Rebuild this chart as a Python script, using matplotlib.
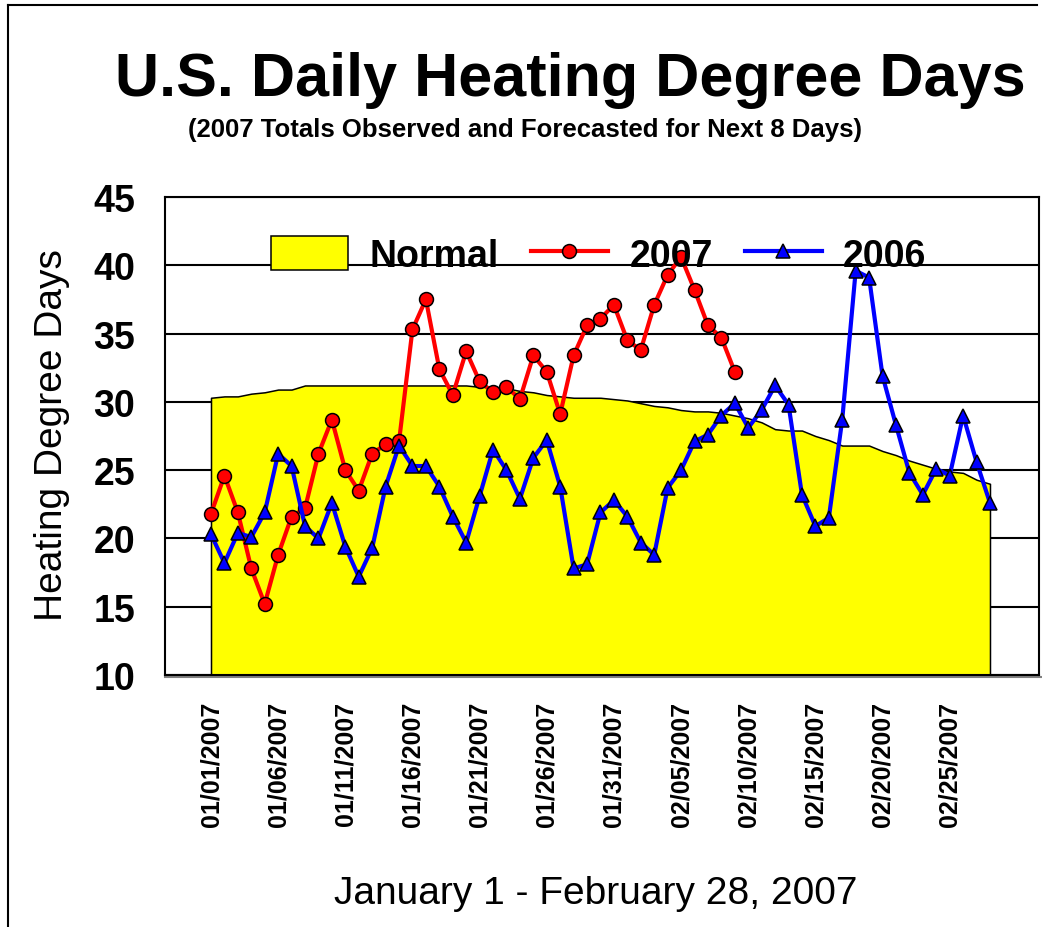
import matplotlib
matplotlib.use("Agg")
import matplotlib.pyplot as plt
from matplotlib.lines import Line2D
import numpy as np

plt.rcParams['font.family'] = ['Liberation Sans', 'DejaVu Sans']

# ---------------- data ----------------
dates = ["01/01/2007", "01/02/2007", "01/03/2007", "01/04/2007", "01/05/2007",
         "01/06/2007", "01/07/2007", "01/08/2007", "01/09/2007", "01/10/2007",
         "01/11/2007", "01/12/2007", "01/13/2007", "01/14/2007", "01/15/2007",
         "01/16/2007", "01/17/2007", "01/18/2007", "01/19/2007", "01/20/2007",
         "01/21/2007", "01/22/2007", "01/23/2007", "01/24/2007", "01/25/2007",
         "01/26/2007", "01/27/2007", "01/28/2007", "01/29/2007", "01/30/2007",
         "01/31/2007", "02/01/2007", "02/02/2007", "02/03/2007", "02/04/2007",
         "02/05/2007", "02/06/2007", "02/07/2007", "02/08/2007", "02/09/2007",
         "02/10/2007", "02/11/2007", "02/12/2007", "02/13/2007", "02/14/2007",
         "02/15/2007", "02/16/2007", "02/17/2007", "02/18/2007", "02/19/2007",
         "02/20/2007", "02/21/2007", "02/22/2007", "02/23/2007", "02/24/2007",
         "02/25/2007", "02/26/2007", "02/27/2007", "02/28/2007"]

normal = [30.3, 30.4, 30.4, 30.6, 30.7, 30.9, 30.9, 31.2, 31.2, 31.2,
          31.2, 31.2, 31.2, 31.2, 31.2, 31.2, 31.2, 31.2, 31.2, 31.2,
          31.1, 31.1, 31.0, 30.8, 30.7, 30.5, 30.4, 30.3, 30.3, 30.3,
          30.2, 30.1, 29.9, 29.7, 29.6, 29.4, 29.3, 29.3, 29.2, 29.0,
          28.8, 28.5, 28.0, 27.9, 27.9, 27.5, 27.2, 26.8, 26.8, 26.8,
          26.4, 26.1, 25.7, 25.4, 25.1, 24.9, 24.8, 24.3, 24.0]

hdd_2007 = [21.8, 24.6, 21.9, 17.8, 15.2, 18.8, 21.6, 22.2, 26.2, 28.7,
            25.0, 23.5, 26.2, 26.9, 27.1, 35.3, 37.5, 32.4, 30.5, 33.7,
            31.5, 30.7, 31.1, 30.2, 33.4, 32.2, 29.1, 33.4, 35.6, 36.1,
            37.1, 34.5, 33.8, 37.1, 39.3, 40.6, 38.2, 35.6, 34.7, 32.2]

hdd_2006 = [20.3, 18.2, 20.4, 20.1, 21.9, 26.2, 25.3, 20.9, 20.0, 22.6,
            19.4, 17.2, 19.3, 23.8, 26.8, 25.3, 25.3, 23.8, 21.6, 19.7,
            23.1, 26.5, 25.0, 22.9, 25.9, 27.2, 23.8, 17.8, 18.1, 21.9,
            22.8, 21.6, 19.7, 18.8, 23.7, 25.0, 27.1, 27.6, 29.0, 29.9,
            28.1, 29.4, 31.2, 29.8, 23.2, 20.9, 21.5, 28.7, 39.6, 39.1,
            31.9, 28.3, 24.8, 23.2, 25.1, 24.6, 29.0, 25.6, 22.6]

yticks = [10, 15, 20, 25, 30, 35, 40, 45]
title = "U.S. Daily Heating Degree Days"
subtitle = "(2007 Totals Observed and Forecasted for Next 8 Days)"

# ---------------- figure ----------------
W, H = 1042, 928
fig = plt.figure(figsize=(W / 100, H / 100), dpi=100)
fig.patch.set_facecolor("white")

def fx(px):
    return px / W

def fy(py):
    return 1 - py / H

ax = fig.add_axes([fx(165), fy(676), fx(1039) - fx(165), fy(198) - fy(676)])

x_all = np.arange(len(dates))
x07 = np.arange(len(hdd_2007))
x06 = np.arange(len(hdd_2006))

ax.set_ylim(10, 45)
ax.set_xlim(-3.425, 61.65)

normal_fill = ax.fill_between(x_all, normal, 10, facecolor="#FFFF00",
                              edgecolor="black", linewidth=1.1, zorder=1,
                              label="Normal")
l07, = ax.plot(x07, hdd_2007, color="#FF0000", lw=3.0, marker="o",
               markersize=10, markerfacecolor="#FF0000",
               markeredgecolor="black", markeredgewidth=1.1, zorder=3,
               label="2007")
l06, = ax.plot(x06, hdd_2006, color="#0000FF", lw=3.0, marker="^",
               markersize=10, markerfacecolor="#0000FF",
               markeredgecolor="black", markeredgewidth=1.1, zorder=4,
               label="2006")

# gridlines (behind the fill)
ax.set_axisbelow(True)
ax.yaxis.grid(True, color="black", linewidth=1.5)
ax.xaxis.grid(False)

ax.set_yticks(yticks)
ax.set_yticklabels([str(v) for v in yticks], fontsize=27, fontweight="bold")
ax.set_xticks(x_all[::5])
ax.set_xticklabels([dates[i] for i in range(0, len(dates), 5)],
                   fontsize=18, fontweight="bold", rotation=90)
ax.tick_params(axis="y", length=0, pad=21.6)
ax.tick_params(axis="x", length=0, pad=18.7)

for s in ax.spines.values():
    s.set_linewidth(1.5)
    s.set_color("black")

# slight grey shadow under bottom axis
ax.add_line(Line2D([0, 1.002], [-0.004, -0.004], transform=ax.transAxes,
                   color="#808080", lw=1.5, clip_on=False, zorder=0))

ax.set_ylabel("Heating Degree Days", fontsize=28)
ax.yaxis.set_label_coords((70 - 165) / 874, (676 - 435) / 478)
ax.set_xlabel("January 1 - February 28, 2007", fontsize=28)
ax.xaxis.set_label_coords((596 - 165) / 874, (676 - 876) / 478)

# legend
leg = ax.legend(handles=[normal_fill, l07, l06], ncol=3, frameon=False,
                loc="center left",
                bbox_to_anchor=(fx(271), fy(256)),
                bbox_transform=fig.transFigure,
                borderpad=0, borderaxespad=0,
                handlelength=2.05, handleheight=1.0, handletextpad=0.58,
                columnspacing=0.85, numpoints=1,
                prop={"size": 27, "weight": "bold"})

# titles
fig.text(fx(570), fy(96), title, ha="center", va="baseline",
         fontsize=44, fontweight="bold")
fig.text(fx(525), fy(137), subtitle, ha="center", va="baseline",
         fontsize=18.5, fontweight="bold")

# outer border (top and left visible)
fig.add_artist(Line2D([fx(8), fx(1037)], [fy(6), fy(6)], color="black", lw=1.5,
                      transform=fig.transFigure))
fig.add_artist(Line2D([fx(8), fx(8)], [fy(6), fy(930)], color="black", lw=1.5,
                      transform=fig.transFigure))

fig.savefig("out.png", dpi=100, facecolor="white")
